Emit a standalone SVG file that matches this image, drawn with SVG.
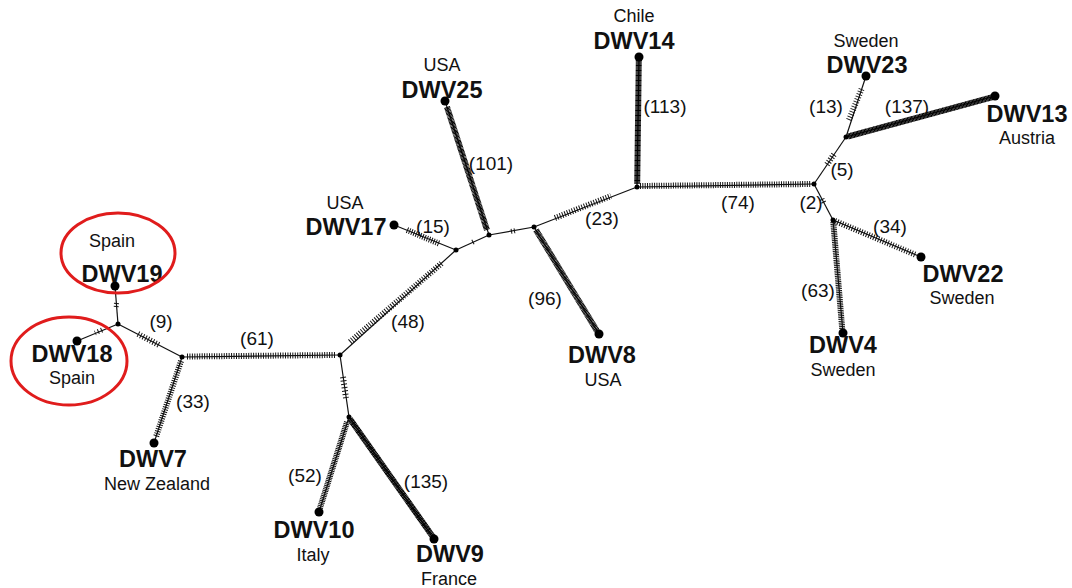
<svg xmlns="http://www.w3.org/2000/svg" width="1072" height="588" viewBox="0 0 1072 588">
<style>
.ln{stroke:#111;stroke-width:1.2;fill:none}
.h{stroke:#111;stroke-width:6;fill:none;stroke-linecap:butt}
.hk{stroke:#000;stroke-width:6;fill:none;stroke-linecap:butt}
.t{stroke:#111;stroke-width:5;fill:none}
.dot{fill:#000}
.nm{font-family:"Liberation Sans",Arial,sans-serif;font-weight:bold;font-size:23.5px;fill:#111;text-anchor:middle}
.ct{font-family:"Liberation Sans",Arial,sans-serif;font-size:18px;fill:#111;text-anchor:middle}
.mu{font-family:"Liberation Sans",Arial,sans-serif;font-size:19px;fill:#111;text-anchor:middle}
.ring{fill:none;stroke:#e01c1c;stroke-width:3}
</style>
<rect width="1072" height="588" fill="#fff"/>
<g id="connectors">
<line class="ln" x1="118" y1="324" x2="115" y2="286"/>
<line class="ln" x1="118" y1="324" x2="77" y2="341"/>
<line class="ln" x1="118" y1="324" x2="182" y2="357"/>
<line class="ln" x1="182" y1="357" x2="154" y2="443"/>
<line class="ln" x1="182" y1="357" x2="340" y2="355"/>
<line class="ln" x1="340" y1="355" x2="349" y2="417"/>
<line class="ln" x1="349" y1="417" x2="319" y2="512"/>
<line class="ln" x1="349" y1="417" x2="434" y2="539"/>
<line class="ln" x1="340" y1="355" x2="456" y2="250"/>
<line class="ln" x1="456" y1="250" x2="394" y2="225"/>
<line class="ln" x1="456" y1="250" x2="489" y2="235"/>
<line class="ln" x1="489" y1="235" x2="445" y2="101"/>
<line class="ln" x1="489" y1="235" x2="534" y2="227"/>
<line class="ln" x1="534" y1="227" x2="599" y2="334"/>
<line class="ln" x1="534" y1="227" x2="637" y2="187"/>
<line class="ln" x1="637" y1="187" x2="639" y2="57"/>
<line class="ln" x1="637" y1="187" x2="814" y2="184"/>
<line class="ln" x1="814" y1="184" x2="846" y2="137"/>
<line class="ln" x1="814" y1="184" x2="833" y2="220"/>
<line class="ln" x1="846" y1="137" x2="866" y2="76"/>
<line class="ln" x1="846" y1="137" x2="995" y2="96"/>
<line class="ln" x1="833" y1="220" x2="921" y2="257"/>
<line class="ln" x1="833" y1="220" x2="843" y2="333"/>
<line class="t" x1="116.5" y1="303" x2="116.2" y2="307" stroke-dasharray="1 2"/>
<line class="t" x1="102" y1="330" x2="95" y2="333" stroke-dasharray="1 2.5"/>
<line class="h" x1="138" y1="334" x2="160" y2="345.5" stroke-dasharray="1 1.8"/>
<line class="h" x1="181" y1="361" x2="156" y2="437" stroke-dasharray="1 1.3"/>
<line class="h" x1="187" y1="356.5" x2="336" y2="355" stroke-dasharray="1 1.45"/>
<line class="h" x1="343" y1="377" x2="346" y2="398" stroke-dasharray="1 2.4"/>
<line class="h" x1="347" y1="422" x2="320" y2="508" stroke-dasharray="1 0.75"/>
<line class="hk" x1="350" y1="419" x2="433" y2="537" stroke-dasharray="1.2 0.2"/>
<line class="h" x1="350" y1="342" x2="442" y2="263" stroke-dasharray="1 1.6"/>
<line class="h" x1="407" y1="230" x2="440" y2="244" stroke-dasharray="1 1.4"/>
<line class="t" x1="472.5" y1="242.3" x2="473.5" y2="241.8" stroke-dasharray="1 2"/>
<line class="hk" x1="447" y1="107" x2="487" y2="230" stroke-dasharray="1 0.35"/>
<line class="t" x1="511" y1="231.4" x2="515" y2="230.7" stroke-dasharray="1 2"/>
<line class="hk" x1="536" y1="230" x2="597" y2="331" stroke-dasharray="1 0.35"/>
<line class="h" x1="555" y1="218" x2="611" y2="196" stroke-dasharray="1 1.6"/>
<line class="hk" x1="638.8" y1="60" x2="637.2" y2="184" stroke-dasharray="1 0.25"/>
<line class="h" x1="640" y1="186" x2="811" y2="184" stroke-dasharray="1 1.35"/>
<line class="h" x1="827" y1="164.5" x2="835" y2="153" stroke-dasharray="1 1.8"/>
<line class="t" x1="822" y1="199" x2="824" y2="203" stroke-dasharray="1 2"/>
<line class="h" x1="849" y1="120" x2="862" y2="88" stroke-dasharray="1 1.7"/>
<line class="hk" x1="848" y1="136.5" x2="993" y2="97" stroke-dasharray="1.2 0.2"/>
<line class="h" x1="835" y1="221" x2="916" y2="255" stroke-dasharray="1 1.6"/>
<line class="h" x1="833.3" y1="222" x2="842.3" y2="330" stroke-dasharray="1 0.8"/>
</g>
<g id="junctions">
<circle class="dot" cx="118" cy="324" r="2.5"/>
<circle class="dot" cx="182" cy="357" r="2.5"/>
<circle class="dot" cx="340" cy="355" r="2.5"/>
<circle class="dot" cx="349" cy="417" r="2.5"/>
<circle class="dot" cx="456" cy="250" r="2.5"/>
<circle class="dot" cx="489" cy="235" r="2.5"/>
<circle class="dot" cx="534" cy="227" r="2.5"/>
<circle class="dot" cx="637" cy="187" r="2.5"/>
<circle class="dot" cx="814" cy="184" r="2.5"/>
<circle class="dot" cx="846" cy="137" r="2.5"/>
<circle class="dot" cx="833" cy="220" r="2.5"/>
</g>
<g id="mutations">
<text class="mu" x="161" y="328">(9)</text>
<text class="mu" x="257" y="345">(61)</text>
<text class="mu" x="193" y="408">(33)</text>
<text class="mu" x="305" y="482">(52)</text>
<text class="mu" x="426" y="488">(135)</text>
<text class="mu" x="408" y="328">(48)</text>
<text class="mu" x="433" y="233">(15)</text>
<text class="mu" x="491" y="170">(101)</text>
<text class="mu" x="545" y="305">(96)</text>
<text class="mu" x="602" y="225">(23)</text>
<text class="mu" x="665" y="113">(113)</text>
<text class="mu" x="738" y="209">(74)</text>
<text class="mu" x="811" y="209">(2)</text>
<text class="mu" x="842" y="176">(5)</text>
<text class="mu" x="826" y="113">(13)</text>
<text class="mu" x="907" y="113">(137)</text>
<text class="mu" x="890" y="233">(34)</text>
<text class="mu" x="818" y="297">(63)</text>
</g>
<g id="DWV19"><circle class="dot" cx="115" cy="286" r="4.5"/><text class="ct" x="112" y="247">Spain</text><text class="nm" x="122" y="282">DWV19</text><ellipse class="ring" cx="118" cy="253" rx="57" ry="40"/></g>
<g id="DWV18"><circle class="dot" cx="77" cy="341" r="4.5"/><text class="nm" x="72" y="362">DWV18</text><text class="ct" x="72" y="384">Spain</text><ellipse class="ring" cx="69" cy="361" rx="58" ry="44"/></g>
<g id="DWV7"><circle class="dot" cx="154" cy="443" r="4.5"/><text class="nm" x="153" y="467">DWV7</text><text class="ct" x="157" y="490">New Zealand</text></g>
<g id="DWV10"><circle class="dot" cx="319" cy="512" r="4.5"/><text class="nm" x="314" y="538">DWV10</text><text class="ct" x="313" y="561">Italy</text></g>
<g id="DWV9"><circle class="dot" cx="434" cy="539" r="4.5"/><text class="nm" x="450" y="562">DWV9</text><text class="ct" x="449" y="585">France</text></g>
<g id="DWV17"><circle class="dot" cx="394" cy="225" r="4.5"/><text class="ct" x="345" y="209">USA</text><text class="nm" x="346" y="235">DWV17</text></g>
<g id="DWV25"><circle class="dot" cx="445" cy="101" r="4.5"/><text class="ct" x="442" y="71">USA</text><text class="nm" x="442" y="98">DWV25</text></g>
<g id="DWV8"><circle class="dot" cx="599" cy="334" r="4.5"/><text class="nm" x="602" y="363">DWV8</text><text class="ct" x="603" y="386">USA</text></g>
<g id="DWV14"><circle class="dot" cx="639" cy="57" r="4.5"/><text class="ct" x="634" y="22">Chile</text><text class="nm" x="634" y="49">DWV14</text></g>
<g id="DWV23"><circle class="dot" cx="866" cy="76" r="4.5"/><text class="ct" x="866" y="47">Sweden</text><text class="nm" x="867" y="73">DWV23</text></g>
<g id="DWV13"><circle class="dot" cx="995" cy="96" r="4.5"/><text class="nm" x="1027" y="122">DWV13</text><text class="ct" x="1027" y="144">Austria</text></g>
<g id="DWV22"><circle class="dot" cx="921" cy="257" r="4.5"/><text class="nm" x="963" y="282">DWV22</text><text class="ct" x="962" y="304">Sweden</text></g>
<g id="DWV4"><circle class="dot" cx="843" cy="333" r="4.5"/><text class="nm" x="843" y="353">DWV4</text><text class="ct" x="843" y="376">Sweden</text></g>
</svg>
